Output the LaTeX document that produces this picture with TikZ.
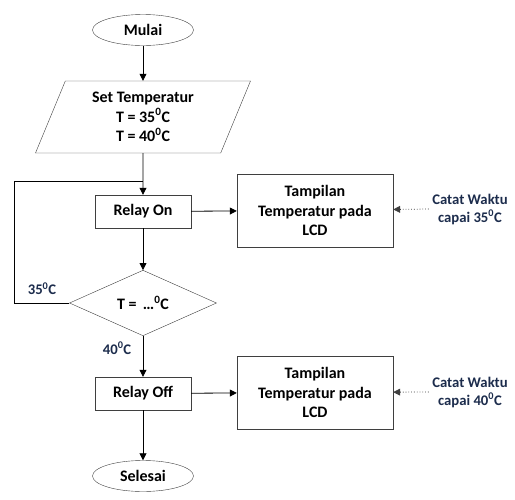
\documentclass[tikz,border=0pt]{standalone}
\usepackage{fontspec}
\setmainfont{Carlito}
\usetikzlibrary{shapes.geometric,arrows.meta}
\definecolor{navy}{HTML}{1C2C4C}
\definecolor{edge}{HTML}{3F3F3F}
\newcommand{\dg}{\textsuperscript{0}}
\begin{document}
\begin{tikzpicture}[x=1pt,y=-1pt,font=\bfseries\fontsize{16}{19.5}\selectfont,
	term/.style={draw=edge,ellipse,minimum width=101pt,minimum height=31pt,inner sep=0pt},
	io/.style={draw=edge,trapezium,trapezium left angle=59,trapezium right angle=121,
					trapezium stretches body=true,minimum width=215pt,minimum height=72pt,inner
					sep=0pt,align=center},
	proc/.style={draw=edge,rectangle,minimum width=96pt,minimum height=33pt,inner sep=0pt},
	disp/.style={draw=edge,rectangle,minimum width=156pt,minimum height=73pt,inner
					sep=0pt,align=center},
	dec/.style={draw=edge,diamond,minimum width=147pt,minimum height=62pt,inner sep=0pt},
	note/.style={text=navy,align=center,font=\bfseries\fontsize{14.7}{18}\selectfont},
	arr/.style={-{Triangle[length=7pt,width=7pt]},line width=0.8pt}]
	\useasboundingbox (0,0) rectangle (515,499);
	\node[term] (mulai) at (143,30) {Mulai};
	\node[io] (set) at (143,117) {Set Temperatur\\T = 35\dg C\\T = 40\dg C};
	\node[proc] (on) at (143,211.5) {Relay On};
	\node[disp] (lcd1) at (315,210.5) {Tampilan\\Temperatur pada\\LCD};
	\node[note] (wkt1) at (470,209) {Catat Waktu\\capai 35\dg C};
	\node[dec] (cek) at (143,303) {T = \,\dots\dg C};
	\node[proc] (off) at (143,393.5) {Relay Off};
	\node[disp] (lcd2) at (315,392.5) {Tampilan\\Temperatur pada\\LCD};
	\node[note] (wkt2) at (470,392) {Catat Waktu\\capai 40\dg C};
	\node[term] (selesai) at (143,476) {Selesai};
	\coordinate (loop) at (14,181);
	\coordinate (join) at (143,181);
	% alur utama
	\draw[arr] (mulai) -- (set);
	\draw[arr] (set) -- (on);
	\draw[arr] (on) -- (cek);
	\draw[arr] (cek) -- node[note,left=8pt,pos=0.3]{40\dg C} (off);
	\draw[arr] (off) -- (selesai);
	% kembali ke relay on
	\draw[line width=0.8pt] (cek.west) -| (loop) -- (join);
	\node[note] (lbl35) at (42,289) {35\dg C};
	% tampilan lcd
	\draw[arr] (on) -- (lcd1);
	\draw[arr] (off) -- (lcd2);
	\draw[arr,dotted,edge] (wkt1.west) -- (lcd1);
	\draw[arr,dotted,edge] (wkt2.west) -- (lcd2);
\end{tikzpicture}
\end{document}
